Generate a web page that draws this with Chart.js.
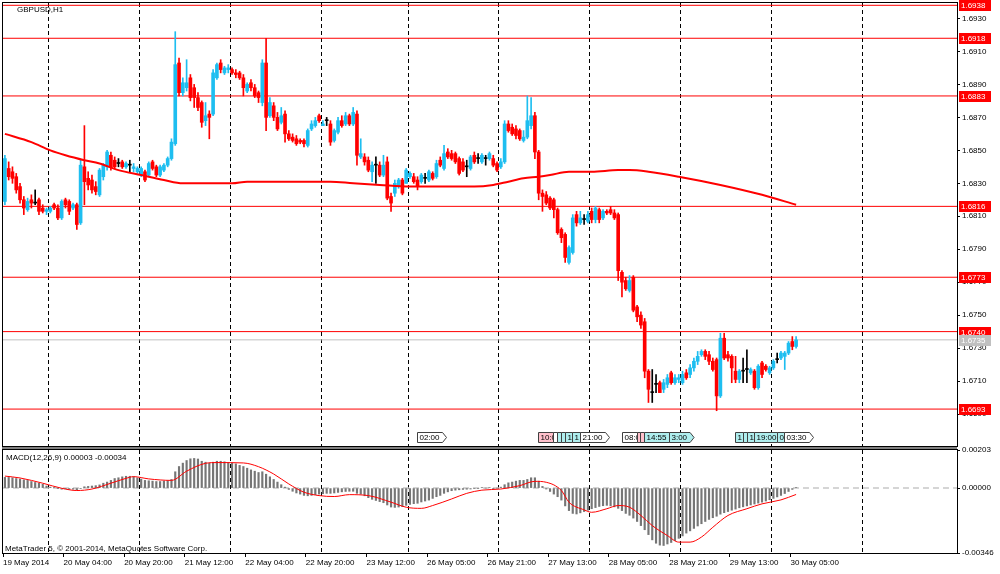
<!DOCTYPE html>
<html>
<head>
<meta charset="utf-8">
<script src="https://cdn.jsdelivr.net/npm/chart.js@4.4.1/dist/chart.umd.min.js"></script>
<style>
  body { margin: 0; background: #fff; width: 1000px; height: 574px; overflow: hidden; position: relative; }
  #pricebox { position: absolute; left: 0; top: 0; width: 1000px; height: 449px; }
  #macdbox { position: absolute; left: 0; top: 440px; width: 1000px; height: 134px; }
  #sep { position: absolute; left: 2px; top: 447px; width: 955px; height: 2px; background: #808080; }
</style>
</head>
<body>
<div id="pricebox"><canvas id="priceChart"></canvas></div>
<div id="sep"></div>
<div id="macdbox"><canvas id="macdChart"></canvas></div>
<script>
// GBPUSD H1, 19 May 2014 12:00 .. 30 May 2014 06:00, one entry per bar
var open = [
  1.6819,1.6839,1.6837,1.6834,1.6828,1.6820,1.6814,1.6820,1.6818,1.6820,
  1.6815,1.6813,1.6813,1.6817,1.6815,1.6809,1.6820,1.6819,1.6815,1.6817,
  1.6806,1.6840,1.6833,1.6832,1.6828,1.6823,1.6834,1.6840,1.6847,1.6844,
  1.6842,1.6843,1.6840,1.6841,1.6839,1.6837,1.6835,1.6837,1.6835,1.6843,
  1.6840,1.6835,1.6838,1.6841,1.6845,1.6854,1.6903,1.6885,1.6888,1.6894,
  1.6888,1.6882,1.6879,1.6868,1.6872,1.6872,1.6894,1.6903,1.6897,1.6899,
  1.6899,1.6897,1.6897,1.6894,1.6886,1.6891,1.6888,1.6885,1.6879,1.6903,
  1.6871,1.6877,1.6870,1.6867,1.6872,1.6860,1.6858,1.6857,1.6856,1.6856,
  1.6853,1.6863,1.6865,1.6871,1.6865,1.6868,1.6866,1.6856,1.6861,1.6868,
  1.6866,1.6871,1.6866,1.6872,1.6846,1.6846,1.6844,1.6837,1.6841,1.6841,
  1.6835,1.6843,1.6822,1.6824,1.6828,1.6832,1.6830,1.6834,1.6834,1.6832,
  1.6831,1.6833,1.6832,1.6836,1.6834,1.6844,1.6839,1.6849,1.6848,1.6848,
  1.6845,1.6843,1.6840,1.6839,1.6847,1.6845,1.6843,1.6845,1.6845,1.6845,
  1.6842,1.6840,1.6843,1.6866,1.6864,1.6863,1.6862,1.6856,1.6858,1.6865,
  1.6871,1.6849,1.6824,1.6823,1.6821,1.6820,1.6814,1.6802,1.6799,1.6782,
  1.6788,1.6811,1.6806,1.6808,1.6807,1.6813,1.6808,1.6814,1.6809,1.6813,
  1.6814,1.6812,1.6811,1.6776,1.6771,1.6765,1.6773,1.6755,1.6750,1.6746,
  1.6716,1.6703,1.6708,1.6709,1.6705,1.6708,1.6715,1.6709,1.6711,1.6709,
  1.6715,1.6714,1.6718,1.6722,1.6726,1.6728,1.6726,1.6722,1.6723,1.6701,
  1.6736,1.6726,1.6725,1.6716,1.6711,1.6716,1.6717,1.6715,1.6716,1.6706,
  1.6721,1.6719,1.6715,1.6718,1.6723,1.6724,1.6725,1.6727,1.6734,1.6731
];
var high = [
  1.6847,1.6843,1.6840,1.6836,1.6830,1.6822,1.6821,1.6823,1.6826,1.6821,
  1.6817,1.6815,1.6816,1.6818,1.6817,1.6820,1.6821,1.6820,1.6818,1.6818,
  1.6844,1.6865,1.6837,1.6835,1.6831,1.6839,1.6842,1.6850,1.6849,1.6846,
  1.6845,1.6844,1.6843,1.6844,1.6842,1.6840,1.6840,1.6838,1.6843,1.6844,
  1.6841,1.6841,1.6842,1.6846,1.6857,1.6922,1.6906,1.6894,1.6905,1.6896,
  1.6890,1.6885,1.6880,1.6879,1.6874,1.6899,1.6903,1.6905,1.6901,1.6902,
  1.6900,1.6899,1.6898,1.6896,1.6891,1.6893,1.6890,1.6886,1.6905,1.6918,
  1.6882,1.6879,1.6873,1.6876,1.6874,1.6862,1.6860,1.6859,1.6857,1.6857,
  1.6863,1.6868,1.6870,1.6872,1.6868,1.6870,1.6868,1.6863,1.6870,1.6871,
  1.6873,1.6872,1.6876,1.6874,1.6857,1.6848,1.6846,1.6843,1.6846,1.6843,
  1.6847,1.6846,1.6824,1.6832,1.6833,1.6833,1.6839,1.6837,1.6836,1.6834,
  1.6836,1.6836,1.6838,1.6837,1.6844,1.6846,1.6853,1.6851,1.6850,1.6849,
  1.6846,1.6845,1.6844,1.6847,1.6849,1.6848,1.6848,1.6847,1.6849,1.6847,
  1.6843,1.6845,1.6868,1.6868,1.6866,1.6865,1.6863,1.6862,1.6883,1.6882,
  1.6873,1.6850,1.6826,1.6825,1.6822,1.6821,1.6815,1.6803,1.6800,1.6792,
  1.6811,1.6813,1.6813,1.6811,1.6813,1.6815,1.6816,1.6815,1.6814,1.6814,
  1.6816,1.6814,1.6812,1.6777,1.6773,1.6774,1.6774,1.6756,1.6752,1.6748,
  1.6717,1.6717,1.6714,1.6710,1.6711,1.6714,1.6716,1.6714,1.6714,1.6716,
  1.6717,1.6720,1.6724,1.6728,1.6729,1.6729,1.6728,1.6724,1.6724,1.6739,
  1.6739,1.6728,1.6726,1.6725,1.6717,1.6724,1.6729,1.6718,1.6717,1.6720,
  1.6722,1.6720,1.6719,1.6723,1.6727,1.6728,1.6728,1.6734,1.6737,1.6737
];
var low = [
  1.6817,1.6832,1.6830,1.6824,1.6818,1.6811,1.6813,1.6815,1.6817,1.6811,
  1.6812,1.6811,1.6812,1.6814,1.6808,1.6808,1.6815,1.6811,1.6814,1.6802,
  1.6805,1.6817,1.6826,1.6824,1.6823,1.6822,1.6832,1.6838,1.6838,1.6839,
  1.6840,1.6839,1.6839,1.6837,1.6837,1.6836,1.6834,1.6831,1.6834,1.6838,
  1.6834,1.6834,1.6837,1.6840,1.6844,1.6853,1.6883,1.6883,1.6886,1.6880,
  1.6876,1.6874,1.6864,1.6865,1.6857,1.6871,1.6893,1.6897,1.6896,1.6897,
  1.6896,1.6894,1.6893,1.6883,1.6885,1.6886,1.6882,1.6879,1.6877,1.6862,
  1.6870,1.6868,1.6862,1.6866,1.6855,1.6856,1.6855,1.6853,1.6854,1.6852,
  1.6852,1.6862,1.6864,1.6867,1.6865,1.6865,1.6853,1.6855,1.6860,1.6864,
  1.6865,1.6865,1.6865,1.6841,1.6845,1.6841,1.6837,1.6831,1.6830,1.6834,
  1.6834,1.6820,1.6813,1.6822,1.6827,1.6823,1.6830,1.6833,1.6830,1.6826,
  1.6830,1.6830,1.6831,1.6832,1.6833,1.6840,1.6838,1.6845,1.6844,1.6842,
  1.6835,1.6837,1.6834,1.6838,1.6842,1.6842,1.6842,1.6841,1.6844,1.6840,
  1.6837,1.6839,1.6842,1.6861,1.6859,1.6857,1.6856,1.6855,1.6857,1.6863,
  1.6845,1.6820,1.6813,1.6817,1.6814,1.6809,1.6799,1.6794,1.6782,1.6781,
  1.6787,1.6804,1.6805,1.6805,1.6806,1.6806,1.6806,1.6806,1.6808,1.6811,
  1.6811,1.6808,1.6771,1.6761,1.6765,1.6764,1.6752,1.6746,1.6742,1.6712,
  1.6697,1.6697,1.6703,1.6703,1.6703,1.6706,1.6708,1.6708,1.6709,1.6708,
  1.6711,1.6712,1.6716,1.6720,1.6725,1.6723,1.6720,1.6716,1.6692,1.6700,
  1.6723,1.6722,1.6709,1.6709,1.6709,1.6709,1.6709,1.6714,1.6705,1.6705,
  1.6712,1.6716,1.6714,1.6717,1.6721,1.6723,1.6717,1.6726,1.6729,1.6730
];
var close = [
  1.6845,1.6834,1.6833,1.6826,1.6820,1.6815,1.6819,1.6818,1.6818,1.6813,
  1.6813,1.6814,1.6815,1.6815,1.6809,1.6819,1.6817,1.6813,1.6817,1.6805,
  1.6841,1.6831,1.6829,1.6826,1.6825,1.6838,1.6841,1.6849,1.6840,1.6840,
  1.6842,1.6840,1.6842,1.6841,1.6840,1.6839,1.6839,1.6832,1.6842,1.6839,
  1.6835,1.6840,1.6841,1.6845,1.6855,1.6902,1.6885,1.6891,1.6891,1.6882,
  1.6882,1.6876,1.6867,1.6871,1.6870,1.6897,1.6902,1.6899,1.6900,1.6900,
  1.6897,1.6896,1.6894,1.6888,1.6890,1.6888,1.6883,1.6882,1.6903,1.6870,
  1.6879,1.6870,1.6863,1.6871,1.6860,1.6857,1.6856,1.6854,1.6855,1.6854,
  1.6862,1.6866,1.6868,1.6868,1.6866,1.6868,1.6855,1.6862,1.6868,1.6865,
  1.6871,1.6866,1.6873,1.6847,1.6848,1.6843,1.6838,1.6841,1.6841,1.6835,
  1.6841,1.6821,1.6818,1.6830,1.6832,1.6824,1.6838,1.6836,1.6831,1.6828,
  1.6835,1.6833,1.6837,1.6833,1.6842,1.6841,1.6848,1.6846,1.6845,1.6843,
  1.6836,1.6838,1.6840,1.6846,1.6843,1.6845,1.6847,1.6845,1.6848,1.6841,
  1.6838,1.6843,1.6866,1.6862,1.6860,1.6859,1.6857,1.6858,1.6868,1.6871,
  1.6849,1.6824,1.6822,1.6818,1.6815,1.6814,1.6800,1.6797,1.6785,1.6791,
  1.6809,1.6806,1.6809,1.6808,1.6811,1.6808,1.6815,1.6808,1.6813,1.6812,
  1.6812,1.6809,1.6777,1.6770,1.6766,1.6771,1.6753,1.6749,1.6744,1.6716,
  1.6705,1.6703,1.6708,1.6703,1.6709,1.6712,1.6709,1.6712,1.6712,1.6714,
  1.6712,1.6718,1.6722,1.6725,1.6728,1.6725,1.6722,1.6717,1.6701,1.6736,
  1.6724,1.6724,1.6718,1.6711,1.6716,1.6716,1.6717,1.6717,1.6706,1.6719,
  1.6714,1.6717,1.6718,1.6722,1.6723,1.6727,1.6727,1.6733,1.6731,1.6735
];

// moving average (red), read at a few bars
var maIdx = [0,7,12,16,21,25,30,36,42,47,53,60,64,69,78,86,92,99,107,117,124,129,133,137,141,144,149,155,162,165,170,178,189,200,209];
var maVal = [1.6860,1.6855,1.6850,1.6847,1.6844,1.6842,1.6838,1.6835,1.6832,1.6830,1.6830,1.6830,1.6831,1.6831,1.6831,1.6831,1.6830,1.6829,1.6828,1.6828,
             1.6828,1.6829,1.6831,1.6833,1.6834,1.6835,1.6837,1.6837,1.6838,1.6838,1.6837,1.6834,1.6829,1.6823,1.6817];

// horizontal levels and bid
var levels = [1.6938, 1.6918, 1.6883, 1.6816, 1.6773, 1.6740, 1.6693];
var bid = 1.6735;
var priceTicks = [1.6930,1.6910,1.6890,1.6870,1.6850,1.6830,1.6810,1.6790,1.6770,1.6750,1.6730,1.6710,1.6690];

// MACD(12,26,9)
var hist = [
  0.00057,0.00057,0.00055,0.00051,0.00048,0.00044,0.00041,0.00035,0.00030,0.00026,
  0.00020,0.00011,0.00005,0.00002,-0.00002,-0.00006,-0.00004,-0.00007,-0.00006,-0.00009,
  -0.00002,0.00007,0.00009,0.00011,0.00013,0.00017,0.00026,0.00032,0.00041,0.00051,
  0.00055,0.00060,0.00063,0.00063,0.00061,0.00055,0.00048,0.00041,0.00039,0.00037,
  0.00035,0.00035,0.00037,0.00039,0.00046,0.00087,0.00115,0.00133,0.00147,0.00156,
  0.00158,0.00155,0.00143,0.00138,0.00133,0.00138,0.00143,0.00143,0.00140,0.00136,
  0.00133,0.00129,0.00121,0.00115,0.00106,0.00097,0.00090,0.00083,0.00087,0.00074,
  0.00060,0.00046,0.00032,0.00018,0.00005,-0.00007,-0.00017,-0.00026,-0.00032,-0.00039,
  -0.00041,-0.00039,-0.00035,-0.00032,-0.00030,-0.00028,-0.00028,-0.00026,-0.00023,-0.00020,
  -0.00018,-0.00017,-0.00017,-0.00028,-0.00032,-0.00041,-0.00051,-0.00060,-0.00066,-0.00072,
  -0.00078,-0.00090,-0.00101,-0.00103,-0.00101,-0.00099,-0.00092,-0.00087,-0.00083,-0.00081,
  -0.00074,-0.00069,-0.00064,-0.00055,-0.00046,-0.00039,-0.00028,-0.00020,-0.00014,-0.00011,
  -0.00009,-0.00007,-0.00006,-0.00005,-0.00003,-0.00003,0.00002,0.00000,0.00002,-0.00002,
  0.00000,0.00005,0.00018,0.00028,0.00032,0.00037,0.00041,0.00041,0.00046,0.00055,
  0.00055,0.00037,0.00009,-0.00005,-0.00018,-0.00032,-0.00046,-0.00064,-0.00095,-0.00120,
  -0.00135,-0.00138,-0.00132,-0.00125,-0.00118,-0.00110,-0.00104,-0.00098,-0.00094,-0.00092,
  -0.00095,-0.00100,-0.00108,-0.00120,-0.00135,-0.00145,-0.00160,-0.00178,-0.00200,-0.00222,
  -0.00248,-0.00276,-0.00294,-0.00304,-0.00306,-0.00298,-0.00290,-0.00280,-0.00268,-0.00255,
  -0.00240,-0.00228,-0.00215,-0.00202,-0.00190,-0.00178,-0.00167,-0.00158,-0.00150,-0.00139,
  -0.00131,-0.00125,-0.00118,-0.00112,-0.00105,-0.00100,-0.00095,-0.00090,-0.00085,-0.00080,
  -0.00075,-0.00069,-0.00062,-0.00055,-0.00047,-0.00039,-0.00029,-0.00018,-0.00007,0.00003
];
var sigIdx = [0,4,10,15,19,23,28,32,34,38,44,48,53,56,63,67,71,75,79,83,87,91,96,102,106,110,113,118,122,126,131,136,140,143,147,149,153,155,159,162,165,168,171,175,178,181,184,187,191,196,200,205,209];
var sigVal = [0.00064,0.00054,0.00026,-0.00001,-0.00013,-0.00005,0.00026,0.00052,0.00061,0.00049,0.00041,0.00090,0.00132,0.00136,0.00134,0.00114,0.00075,0.00022,-0.00022,-0.00040,
              -0.00045,-0.00035,-0.00040,-0.00075,-0.00102,-0.00108,-0.00093,-0.00058,-0.00028,-0.00011,-0.00005,0.00013,0.00036,0.00031,-0.00013,-0.00075,-0.00116,-0.00129,-0.00110,-0.00093,
              -0.00102,-0.00146,-0.00200,-0.00253,-0.00288,-0.00288,-0.00261,-0.00209,-0.00146,-0.00110,-0.00084,-0.00063,-0.00034];
var macdTicks = [0.00203, 0.00000, -0.00346];

// time axis
var dayStarts = [12, 36, 60, 84, 107, 131, 155, 179, 203, 227];
var labelIdx = [0, 16, 32, 48, 64, 80, 96, 112, 128, 144, 160, 176, 192, 208];
var timeLabels = ['19 May 2014','20 May 04:00','20 May 20:00','21 May 12:00','22 May 04:00','22 May 20:00','23 May 12:00',
                  '26 May 05:00','26 May 21:00','27 May 13:00','28 May 05:00','28 May 21:00','29 May 13:00','30 May 05:00'];

// event marks above the time axis (bar position, text, kind)
var evIdx = [108.9, 140.9, 144.7, 145.8, 146.9, 148.0, 149.9, 151.9, 163.0, 166.9, 167.8, 168.9, 175.3, 192.9, 195.1, 196.0, 198.0, 203.9, 205.8];
var evText = ['02:00','10:00','','','','1','1','21:00','08:00','','','14:55','3:00','1','','1','19:00','0','03:30'];
var evKind = ['w','p','w','c','c','c','c','w','w','p','p','c','c','c','c','c','c','c','w'];

var BULL = '#1ebef0', BEAR = '#ff0000', DOJI = '#000000';
var X_MIN = -0.5, X_MAX = 251.5;
var FONT = '8px "Liberation Sans", Arial, sans-serif';

Chart.defaults.font.family = '"Liberation Sans", Arial, sans-serif';
Chart.defaults.font.size = 8;
Chart.defaults.color = '#000';
Chart.defaults.animation = false;
Chart.defaults.plugins.legend.display = false;
Chart.defaults.plugins.tooltip.enabled = false;

function hline(v) { return [{x: X_MIN, y: v}, {x: X_MAX, y: v}]; }

var colors = open.map(function (o, i) { return close[i] > o ? BULL : (close[i] < o ? BEAR : DOJI); });
var wickData = open.map(function (o, i) { return {x: i, y: [low[i], high[i]]}; });
var bodyData = open.map(function (o, i) { return {x: i, y: [o, close[i]]}; });
var maData = maIdx.map(function (d, k) { return {x: d, y: maVal[k]}; });

function gridAxis() {
    return {
        type: 'linear', min: X_MIN, max: X_MAX, offset: false,
        afterBuildTicks: function (s) { s.ticks = dayStarts.map(function (d) { return {value: d - 0.5}; }); },
        afterFit: function (s) { s.height = 0; s.paddingLeft = 0; s.paddingRight = 0; },
        grid: {color: '#000', lineWidth: 1, drawTicks: false, offset: false},
        border: {display: false, dash: [4, 3]},
        ticks: {display: false}
    };
}

// frame + free texts
var mtPlugin = {
    id: 'mt',
    afterDraw: function (chart) {
        var ctx = chart.ctx, a = chart.chartArea, o = chart.options.plugins.mt;
        ctx.save();
        ctx.strokeStyle = '#000'; ctx.lineWidth = 1;
        ctx.strokeRect(a.left - 0.5, a.top - 0.5, a.right - a.left + 1, a.bottom - a.top + 1);
        ctx.font = FONT; ctx.textBaseline = 'middle'; ctx.textAlign = 'left';
        (o.texts || []).forEach(function (t) { ctx.fillStyle = '#000'; ctx.fillText(t[0], t[1], t[2]); });
        if (o.tags) {
            var ys = chart.scales.y;
            o.tags.forEach(function (t) {
                var y = Math.round(ys.getPixelForValue(t[0]));
                ctx.fillStyle = t[1];
                ctx.fillRect(a.right + 2, y - 5, 32, 11);
                ctx.fillStyle = '#fff';
                ctx.fillText(t[0].toFixed(4), a.right + 4, y + 0.5);
            });
        }
        if (o.events) {
            var xs = chart.scales.x;
            var fills = {w: '#ffffff', c: '#afeeee', p: '#ffc0cb'};
            var top = 432.5, bot = 442.5, mid = 437.5;
            for (var k = 0; k < evIdx.length; k++) {
                var x0 = Math.round(xs.getPixelForValue(evIdx[k])) + 0.5;
                var nat = evText[k] ? ctx.measureText(evText[k]).width + 5 : 3;
                var w = nat, arrow = true;
                if (k + 1 < evIdx.length) {
                    var nx = Math.round(xs.getPixelForValue(evIdx[k + 1])) + 0.5;
                    if (nx - x0 < nat + 3) { w = nx - x0; arrow = false; }
                }
                ctx.beginPath();
                ctx.moveTo(x0, top); ctx.lineTo(x0 + w, top);
                if (arrow) ctx.lineTo(x0 + w + 4, mid);
                ctx.lineTo(x0 + w, bot); ctx.lineTo(x0, bot); ctx.closePath();
                ctx.fillStyle = fills[evKind[k]]; ctx.fill();
                ctx.strokeStyle = '#404040'; ctx.stroke();
                if (evText[k]) {
                    ctx.save();
                    ctx.beginPath(); ctx.rect(x0, top, w, bot - top); ctx.clip();
                    ctx.fillStyle = '#000';
                    ctx.fillText(evText[k], x0 + 2, mid + 0.5);
                    ctx.restore();
                }
            }
        }
        ctx.restore();
    }
};

new Chart(document.getElementById('priceChart'), {
    type: 'bar',
    data: {
        datasets: levels.map(function (v) {
            return {type: 'line', data: hline(v), borderColor: '#ff0000', borderWidth: 1, pointRadius: 0, order: 30};
        }).concat([
            {type: 'line', data: hline(bid), borderColor: '#c0c0c0', borderWidth: 1, pointRadius: 0, order: 29},
            {type: 'bar', data: wickData, backgroundColor: colors, barThickness: 1, grouped: false, order: 10},
            {type: 'bar', data: bodyData, backgroundColor: colors, barThickness: 3, minBarLength: 1, grouped: false, order: 9},
            {type: 'line', data: maData, borderColor: '#ff0000', borderWidth: 2, pointRadius: 0, cubicInterpolationMode: 'monotone', order: 1}
        ])
    },
    options: {
        responsive: true, maintainAspectRatio: false,
        layout: {padding: {left: 3, top: 3, right: 0, bottom: 3}},
        scales: {
            x: gridAxis(),
            y: {
                position: 'right', min: 1.66706, max: 1.69394,
                afterBuildTicks: function (s) { s.ticks = priceTicks.map(function (v) { return {value: v}; }); },
                afterFit: function (s) { s.width = 43; s.paddingTop = 0; s.paddingBottom = 0; },
                grid: {drawOnChartArea: false, drawTicks: true, tickLength: 3, tickColor: '#000'},
                border: {display: true, color: '#000'},
                ticks: {padding: 2, color: '#000', callback: function (v) { return v.toFixed(4); }}
            }
        },
        plugins: {
            mt: {
                texts: [['GBPUSD,H1', 17, 10]],
                tags: levels.map(function (v) { return [v, '#ff0000']; }).concat([[bid, '#c0c0c0']]),
                events: true
            }
        }
    },
    plugins: [mtPlugin]
});

var x2 = {
    type: 'linear', position: 'bottom', min: X_MIN, max: X_MAX, offset: false,
    afterBuildTicks: function (s) { s.ticks = labelIdx.map(function (d) { return {value: d - 0.5}; }); },
    afterFit: function (s) { s.height = 21; s.paddingLeft = 0; s.paddingRight = 0; },
    grid: {drawOnChartArea: false, drawTicks: true, tickLength: 4, tickColor: '#000', offset: false},
    border: {display: false},
    ticks: {autoSkip: false, maxRotation: 0, minRotation: 0, align: 'start', padding: 1, color: '#000',
            callback: function (v, k) { return timeLabels[k]; }}
};

new Chart(document.getElementById('macdChart'), {
    type: 'bar',
    data: {
        datasets: [
            {type: 'line', data: hline(0), borderColor: '#c8c8c8', borderWidth: 1.5, borderDash: [6, 4], pointRadius: 0, order: 30},
            {type: 'bar', data: hist.map(function (v, i) { return {x: i, y: v}; }), backgroundColor: '#767676', barThickness: 1.5, grouped: false, order: 10},
            {type: 'line', data: sigIdx.map(function (d, k) { return {x: d, y: sigVal[k]}; }), borderColor: '#ff0000', borderWidth: 1, pointRadius: 0, cubicInterpolationMode: 'monotone', order: 1}
        ]
    },
    options: {
        responsive: true, maintainAspectRatio: false,
        layout: {padding: {left: 3, top: 10, right: 0, bottom: 0}},
        scales: {
            x: gridAxis(),
            x2: x2,
            y: {
                position: 'right', min: macdTicks[2], max: macdTicks[0],
                afterBuildTicks: function (s) { s.ticks = macdTicks.map(function (v) { return {value: v}; }); },
                afterFit: function (s) { s.width = 43; s.paddingTop = 0; s.paddingBottom = 0; },
                grid: {drawOnChartArea: false, drawTicks: true, tickLength: 3, tickColor: '#000'},
                border: {display: true, color: '#000'},
                ticks: {padding: 2, color: '#000', callback: function (v) { return v.toFixed(5); }}
            }
        },
        plugins: {
            mt: {
                texts: [
                    ['MACD(12,26,9) ' + hist[hist.length - 1].toFixed(5) + ' ' + sigVal[sigVal.length - 1].toFixed(5), 6, 17.5],
                    ['MetaTrader 5, \u00a9 2001-2014, MetaQuotes Software Corp.', 5, 108.5]
                ]
            }
        }
    },
    plugins: [mtPlugin]
});
</script>
</body>
</html>
